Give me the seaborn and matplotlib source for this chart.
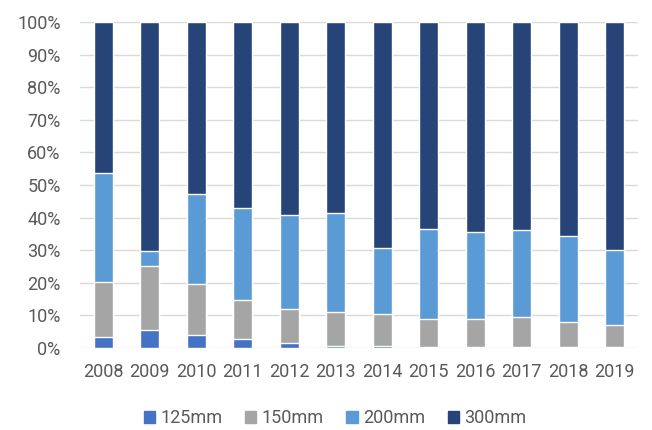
import matplotlib
matplotlib.use("Agg")
import matplotlib.pyplot as plt
import matplotlib.patches as mpatches
import seaborn as sns
import pandas as pd
import numpy as np

years = ["2008", "2009", "2010", "2011", "2012", "2013",
         "2014", "2015", "2016", "2017", "2018", "2019"]
series = ["125mm", "150mm", "200mm", "300mm"]
share_125 = [3.5, 5.5, 3.9, 2.9, 1.6, 0.7, 0.6, 0.4, 0.4, 0.4, 0.4, 0.4]
share_150 = [16.7, 19.8, 15.8, 11.8, 10.4, 10.4, 9.8, 8.5, 8.5, 9.0, 7.6, 6.7]
share_200 = [33.6, 4.4, 27.6, 28.4, 28.8, 30.2, 20.3, 27.5, 26.8, 26.8, 26.3, 23.1]
share_300 = [46.2, 70.3, 52.7, 56.9, 59.2, 58.7, 69.3, 63.6, 64.3, 63.8, 65.7, 69.8]
colors = ["#4472C4", "#A5A5A5", "#5B9BD5", "#264478"]

sns.set_theme(style="white")
plt.rcParams["font.family"] = ["Roboto", "DejaVu Sans"]

values = np.array([share_125, share_150, share_200, share_300])
cum = np.cumsum(values, axis=0)
cum = cum / cum[-1] * 100  # normalise each year to 100%

fig = plt.figure(figsize=(6.52, 4.30), dpi=100)
ax = fig.add_axes([0.1227, 0.1907, 0.8558, 0.7581])

# stacked bars: draw cumulative totals from the top series down
for i in range(len(series) - 1, -1, -1):
    df = pd.DataFrame({"year": years, "value": cum[i]})
    sns.barplot(data=df, x="year", y="value", color=colors[i],
                width=0.41, saturation=1, ax=ax, zorder=3)

ax.set_ylim(0, 100)
ax.set_xlim(-0.5, len(years) - 0.5)
ax.set_yticks(np.arange(0, 101, 10))
ax.set_yticklabels([f"{v}%" for v in range(0, 101, 10)])
ax.yaxis.grid(True, color="#D9D9D9", linewidth=1, zorder=0)
ax.set_axisbelow(True)
for s in ax.spines.values():
    s.set_visible(False)
ax.set_xlabel("")
ax.set_ylabel("")
ax.tick_params(axis="both", length=0, labelsize=13, colors="#595959")
ax.tick_params(axis="x", pad=11)
ax.tick_params(axis="y", pad=14)

handles = [mpatches.Patch(color=c, label=l) for c, l in zip(colors, series)]
fig.legend(handles=handles, loc="center", bbox_to_anchor=(0.514, 0.027),
           ncol=4, frameon=False, fontsize=13, handlelength=0.62,
           handleheight=0.62, handletextpad=0.3, columnspacing=1.25,
           labelcolor="#595959")

fig.savefig("out.png", dpi=100)
